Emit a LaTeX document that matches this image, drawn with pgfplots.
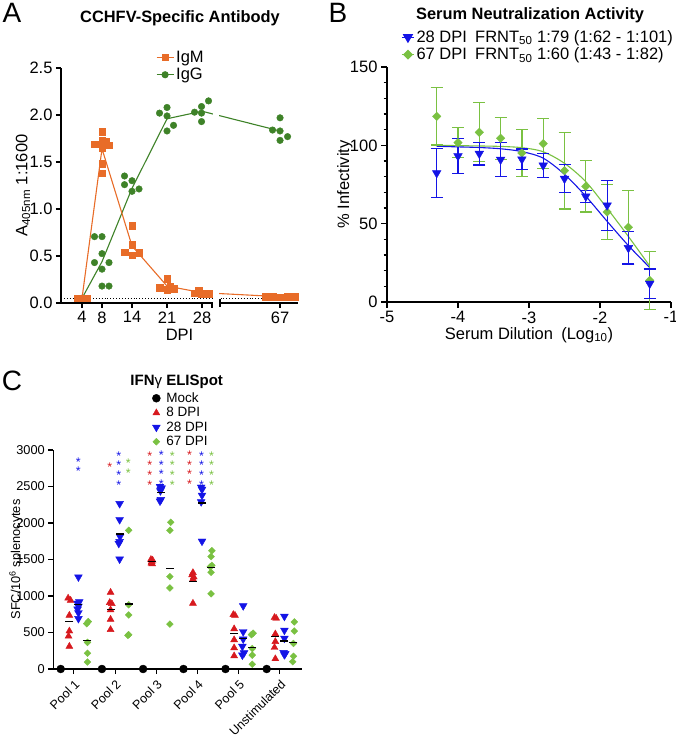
\documentclass[border=0pt]{standalone}
\usepackage{pgfplots}
\pgfplotsset{compat=1.18}
\usepackage{fontspec}
\setmainfont{Liberation Sans}
\definecolor{igm}{RGB}{232,108,40}
\definecolor{igg}{RGB}{62,130,40}
\definecolor{bblue}{RGB}{20,20,230}
\definecolor{bgreen}{RGB}{122,193,66}
\definecolor{cred}{RGB}{215,25,30}
\newcommand{\fA}{\fontsize{16.5}{19}\selectfont}
\newcommand{\fC}{\fontsize{12.8}{15}\selectfont}
\pgfplotsset{
  common/.style={
    scale only axis,
    axis x line=bottom, axis y line=left,
    axis line style={line width=1.3pt,-},
    every outer x axis line/.append style={-},
    every outer y axis line/.append style={-},
    tick align=outside,
    major tick length=5pt,
    tick style={line width=1.1pt, black},
    /pgf/number format/assume math mode=true,
    /pgf/number format/1000 sep={},
    scaled ticks=false,
    clip=false,
  },
}
\tikzset{ast/.style={font=\fontsize{12.5}{7}\selectfont, align=center, inner sep=0pt}}
\begin{document}
\begin{tikzpicture}
\useasboundingbox (0pt,0pt) rectangle (675pt,739pt);
% ---------------- Panel A ----------------
% x axis is broken: day 67 is drawn at position 43.6
\begin{axis}[common,
  at={(61pt,436pt)}, anchor=south west,
  width=237pt, height=235pt,
  xmin=-0.2, xmax=47.2, ymin=0, ymax=2.5,
  xtick={4,8,14,21,28,43.6}, xticklabels={4,8,14,21,28,67},
  ytick={0,0.5,1,1.5,2,2.5},
  yticklabel style={/pgf/number format/.cd, fixed, fixed zerofill, precision=1},
  tick label style={font=\fA},
  xlabel={DPI}, ylabel={A\textsubscript{405nm} 1:1600},
  xlabel style={font=\fA, at={(axis description cs:0.5,-0.135)}, anchor=center},
  ylabel style={font=\fA, at={(axis description cs:-0.16,0.5)}, anchor=center},
  legend style={at={(axis description cs:0.40,1.08)}, anchor=north west, draw=none, fill=none, font=\fA, row sep=0pt, inner sep=0pt},
  legend cell align=left,
]
\addlegendimage{igm, line width=1.1pt, mark=square*, mark size=3pt}
\addlegendentry{IgM}
\addlegendimage{igg, line width=1.1pt, mark=*, mark size=3pt}
\addlegendentry{IgG}
\addplot[black, dotted, line width=0.9pt, forget plot] coordinates {(-0.2,0.045) (47.2,0.045)};
\addplot[igg, line width=1.1pt, forget plot] coordinates {(4,0.05) (8,0.44) (14,1.22) (21,1.96) (28,2.04) (43.6,1.83)};
\addplot[igm, line width=1.1pt, forget plot] coordinates {(4,0.05) (8,1.641) (14,0.607) (21,0.18) (28,0.11) (43.6,0.067)};
\addplot[igg, only marks, mark=*, mark size=3.3pt, forget plot] coordinates {
 (4,0.05)
 (6.5,0.706) (8,0.706) (8,0.525) (6.5,0.43) (8,0.36) (9.4,0.43) (8,0.18) (9.4,0.18)
 (12.5,1.351) (12.5,1.259) (14,1.301) (14,1.188) (15.4,1.213)
 (19.5,2.02) (21,2.08) (21,1.99) (21,1.83) (22.3,1.89)
 (26.5,2.03) (27.9,2.09) (27.9,2.02) (27.9,1.93) (29.3,2.15)
 (43.6,1.97) (42.1,1.84) (43.6,1.83) (45.1,1.77) (43.6,1.73)};
\addplot[igm, only marks, mark=square*, mark size=3.3pt, forget plot] coordinates {
 (3,0.05) (3.5,0.05) (4,0.05) (4.5,0.05) (5,0.05)
 (6.5,1.69) (8,1.82) (8,1.73) (8.7,1.72) (9.4,1.68) (8,1.65) (8,1.48) (8,1.38)
 (14,0.82) (14,0.62) (14,0.51) (12.5,0.54) (15.4,0.535)
 (19.5,0.16) (21,0.26) (21,0.14) (21.6,0.18) (22.3,0.155)
 (26.5,0.106) (27.3,0.138) (27.9,0.096) (28.7,0.106) (29.3,0.096)
 (40.7,0.067) (42.1,0.066) (43.6,0.06) (45.1,0.064) (46.5,0.068)};
\end{axis}
% axis break
\fill[white] (212.6pt,433pt) rectangle (219.2pt,673pt);
\draw[line width=1.2pt] (220pt,440pt) -- (220pt,432pt);
\draw[line width=1.1pt] (212pt,436pt) -- (212pt,431pt);
\node[font=\bfseries\fontsize{16.4}{19}\selectfont] at (180pt,720.5pt) {CCHFV-Specific Antibody};
\node[font=\fontsize{28}{30}\selectfont] at (12pt,726pt) {A};
% ---------------- Panel B ----------------
\begin{axis}[common,
  at={(387pt,437pt)}, anchor=south west,
  width=284pt, height=235pt,
  xmin=-5, xmax=-1, ymin=0, ymax=150,
  xtick={-5,-4,-3,-2,-1}, ytick={0,50,100,150},
  minor ytick={10,20,30,40,60,70,80,90,110,120,130,140},
  major tick length=6pt, minor tick length=3.5pt,
  tick label style={font=\fA},
  xlabel={Serum Dilution\enspace(Log\textsubscript{10})}, ylabel={\% Infectivity},
  xlabel style={font=\fA, at={(axis description cs:0.5,-0.14)}, anchor=center},
  ylabel style={font=\fA, at={(axis description cs:-0.148,0.5)}, anchor=center},
  legend style={at={(axis description cs:0.05,1.165)}, anchor=north west, draw=none, fill=none, font=\fA, row sep=0pt, inner sep=0pt},
  legend cell align=left,
  legend image code/.code={\draw[mark repeat=2,mark phase=2,#1] plot coordinates {(0pt,0pt) (6pt,0pt) (12pt,0pt)};},
]
\addlegendimage{bblue, line width=1.1pt, mark=triangle*, mark options={rotate=180}, mark size=5pt}
\addlegendentry{28 DPI\enspace FRNT\textsubscript{50} 1:79 (1:62 - 1:101)}
\addlegendimage{bgreen, line width=1.1pt, mark=square*, mark options={rotate=45}, mark size=3pt}
\addlegendentry{67 DPI\enspace FRNT\textsubscript{50} 1:60 (1:43 - 1:82)}
\addplot[bgreen, line width=1.1pt, smooth, forget plot] coordinates {
 (-4.3,100.1) (-4.0,99.8) (-3.7,99.6) (-3.4,99.3) (-3.1,98.5) (-2.8,95.9) (-2.5,88.5) (-2.2,76.8) (-1.9,59.8) (-1.6,41.8) (-1.3,23.0)};
\addplot[bblue, line width=1.1pt, smooth, forget plot] coordinates {
 (-4.3,99.4) (-4.0,99.0) (-3.7,98.6) (-3.4,97.8) (-3.1,96.0) (-2.8,91.8) (-2.5,81.5) (-2.2,67.5) (-1.9,51.5) (-1.6,36.0) (-1.3,22.0)};
\addplot[bgreen, only marks, mark=square*, mark options={rotate=45}, mark size=3pt, forget plot,
  error bars/.cd, y dir=both, y explicit,
  error bar style={line width=1.2pt},
  error mark options={rotate=90, mark size=6pt, line width=1.2pt, bgreen}]
 coordinates {
 (-4.3,118.5) +- (0,18.3)
 (-4.0,101.7) +- (0,9.7)
 (-3.7,108.3) +- (0,18.8)
 (-3.4,104.5) +- (0,13.5)
 (-3.1,95.1) +- (0,14.9)
 (-2.8,101.1) +- (0,15.8)
 (-2.5,83.8) +- (0,24.5)
 (-2.2,73.8) +- (0,16.3)
 (-1.9,57.4) +- (0,17.7)
 (-1.6,47.7) +- (0,23.6)
 (-1.3,13.8) +- (0,18.4)};
\addplot[bblue, only marks, mark=triangle*, mark options={rotate=180}, mark size=5pt, forget plot,
  error bars/.cd, y dir=both, y explicit,
  error bar style={line width=1.2pt},
  error mark options={rotate=90, mark size=6pt, line width=1.2pt, bblue}]
 coordinates {
 (-4.3,82.3) +- (0,15.5)
 (-4.0,93.2) +- (0,11.3)
 (-3.7,94.7) +- (0,7.2)
 (-3.4,90.9) +- (0,11.0)
 (-3.1,91.1) +- (0,6.5)
 (-2.8,87.2) +- (0,7.6)
 (-2.5,78.7) +- (0,9.0)
 (-2.2,67.4) +- (0,3.9)
 (-1.9,61.7) +- (0,16.0)
 (-1.6,34.5) +- (0,10.3)
 (-1.3,11.7) +- (0,9.3)};
\end{axis}
\node[font=\bfseries\fontsize{16.4}{19}\selectfont] at (530pt,723.5pt) {Serum Neutralization Activity};
\node[font=\fontsize{28}{30}\selectfont] at (338pt,726pt) {B};
% ---------------- Panel C ----------------
\begin{axis}[common,
  at={(53.3pt,70pt)}, anchor=south west,
  width=248.4pt, height=219pt,
  xmin=-0.5, xmax=5.53, ymin=0, ymax=3000,
  xtick={0,1,2,3,4,5}, xticklabels={Pool 1,Pool 2,Pool 3,Pool 4,Pool 5,Unstimulated},
  ytick={0,500,1000,1500,2000,2500,3000},
  tick label style={font=\fC},
  xticklabel style={rotate=45, anchor=north east, font=\fontsize{12.5}{15}\selectfont},
  ylabel={SFC/10\textsuperscript{6} splenocytes},
  ylabel style={font=\fC, at={(axis description cs:-0.15,0.5)}, anchor=center},
  legend style={at={(axis description cs:0.398,1.272)}, anchor=north west, draw=none, fill=none, font=\fontsize{13.5}{15}\selectfont, row sep=-0.5pt, column sep=4pt, inner sep=0pt},
  legend cell align=left,
]
\addlegendimage{only marks, mark=*, black, mark size=4pt}
\addlegendentry{Mock}
\addlegendimage{only marks, mark=triangle*, cred, mark size=4pt}
\addlegendentry{8 DPI}
\addlegendimage{only marks, mark=triangle*, mark options={rotate=180}, bblue, mark size=4.5pt}
\addlegendentry{28 DPI}
\addlegendimage{only marks, mark=square*, mark options={rotate=45}, bgreen, mark size=2.4pt}
\addlegendentry{67 DPI}
\addplot[black, only marks, mark=*, mark size=4pt, forget plot] coordinates {
 (-0.32,0) (0.68,0) (1.68,0) (2.66,0) (3.68,0) (4.68,0)};
\addplot[cred, only marks, mark=triangle*, mark size=4pt, forget plot] coordinates {
 (-0.14,970) (-0.08,940) (-0.11,735) (-0.11,520) (-0.13,450) (-0.11,310)
 (0.89,1050) (0.87,910) (0.92,895) (0.89,810) (0.89,680) (0.89,540)
 (1.87,1500) (1.91,1490) (1.89,1470) (1.88,1450) (1.90,1440)
 (2.89,1320) (2.87,1290) (2.91,1260) (2.89,1230) (2.89,900)
 (3.87,745) (3.91,735) (3.89,550) (3.89,400) (3.89,290) (3.89,180)
 (4.87,705) (4.91,695) (4.89,480) (4.89,375) (4.87,295) (4.89,140)};
\addplot[bblue, only marks, mark=triangle*, mark options={rotate=180}, mark size=4.5pt, forget plot] coordinates {
 (0.11,1260) (0.13,920) (0.09,900) (0.11,860) (0.09,820) (0.11,770) (0.11,690)
 (1.11,2265) (1.11,2045) (1.12,1815) (1.11,1745) (1.09,1720) (1.11,1505)
 (2.09,2500) (2.13,2480) (2.11,2460) (2.10,2440) (2.11,2320) (2.09,2300)
 (3.09,2490) (3.11,2460) (3.11,2380) (3.09,2290) (3.11,1750)
 (4.11,865) (4.11,510) (4.11,410) (4.09,310) (4.13,220) (4.09,190)
 (5.11,720) (5.11,530) (5.11,420) (5.09,225) (5.13,210) (5.11,195)};
\addplot[bgreen, only marks, mark=square*, mark options={rotate=45}, mark size=2.4pt, forget plot] coordinates {
 (0.35,650) (0.31,620) (0.33,365) (0.33,215) (0.33,95)
 (1.33,1900) (1.33,880) (1.33,740) (1.33,470) (1.31,460)
 (2.35,2010) (2.33,1900) (2.33,1265) (2.33,1110) (2.33,615)
 (3.35,1620) (3.33,1540) (3.35,1420) (3.31,1400) (3.33,1325) (3.33,1030)
 (4.35,490) (4.31,470) (4.33,280) (4.33,190) (4.33,65)
 (5.35,645) (5.35,520) (5.33,350) (5.33,175) (5.31,100)};
\addplot[black, only marks, mark=-, mark size=4pt, line width=1.1pt, forget plot] coordinates {
 (-0.11,654) (0.89,814) (1.89,1470) (2.89,1200) (3.89,483) (4.89,448)
 (0.11,889) (1.11,1849) (2.11,2417) (3.11,2274) (4.11,418) (5.11,383)
 (0.33,389) (1.33,890) (2.33,1380) (3.33,1389) (4.33,299) (5.33,358)};
% significance asterisks
\node[ast, text=bblue] at (0.11,2770) {*\\*};
\node[ast, text=cred] at (0.87,2760) {*};
\node[ast, text=bblue] at (1.09,2720) {*\\*\\*\\*};
\node[ast, text=bgreen] at (1.32,2750) {*\\*};
\node[ast, text=cred] at (1.84,2720) {*\\*\\*\\*};
\node[ast, text=bblue] at (2.12,2730) {*\\*\\*\\*};
\node[ast, text=bgreen] at (2.39,2720) {*\\*\\*\\*};
\node[ast, text=cred] at (2.81,2730) {*\\*\\*\\*};
\node[ast, text=bblue] at (3.10,2720) {*\\*\\*\\*};
\node[ast, text=bgreen] at (3.34,2720) {*\\*\\*\\*};
\end{axis}
\node[font=\bfseries\fontsize{15}{18}\selectfont] at (176.7pt,357pt) {IFN{\mdseries γ} ELISpot};
\node[font=\fontsize{28}{30}\selectfont] at (12pt,358pt) {C};
\end{tikzpicture}
\end{document}
